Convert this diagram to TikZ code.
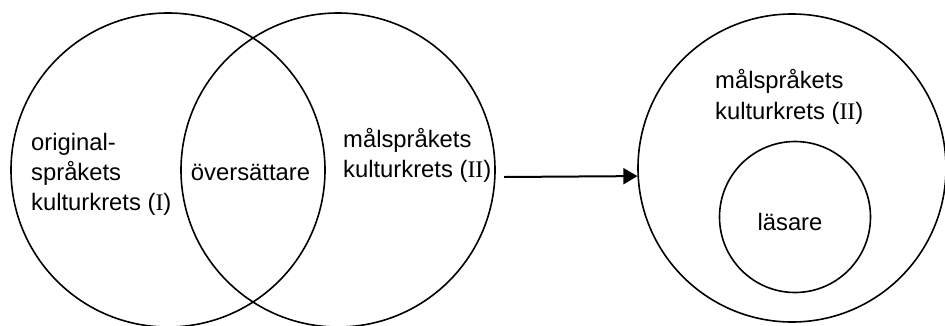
\documentclass[tikz,border=0pt]{standalone}
\usepackage{fontspec}
\setmainfont{Liberation Sans}
\newfontfamily\tms{Liberation Serif}
\usetikzlibrary{arrows.meta}
\begin{document}
\begin{tikzpicture}[x=1pt,y=-1pt,
  ring/.style={draw,circle,line width=1.6pt,inner sep=0pt},
  lbl/.style={anchor=base west,inner sep=0pt,font=\fontsize{23.8}{30}\selectfont},
  conn/.style={line width=2pt,-{Triangle[length=14pt,width=16pt]}}]
\useasboundingbox (0,0) rectangle (945,325);
\node[ring,minimum size=314pt] (c1) at (168,170) {};
\node[ring,minimum size=314pt] (c2) at (338,170) {};
\node[ring,minimum size=308pt] (c3) at (792,168) {};
\node[ring,minimum size=151pt] (c4) at (795,217) {};
\node[lbl] (o1) at (31,150) {original-};
\node[lbl] (o2) at (31,180) {språkets};
\node[lbl] (o3) at (31,210) {kulturkrets ({\tms I})};
\node[lbl,anchor=base] (ov) at (250.5,180) {översättare};
\node[lbl] (m1) at (343,147) {målspråkets};
\node[lbl] (m2) at (343,177) {kulturkrets ({\tms II})};
\node[lbl] (r1) at (715,88) {målspråkets};
\node[lbl] (r2) at (715,119) {kulturkrets ({\tms II})};
\node[lbl,anchor=base] (ls) at (790,230) {läsare};
\coordinate (a0) at (504,177);
\draw[conn] (a0) -- (c3.183.3);
\end{tikzpicture}
\end{document}
